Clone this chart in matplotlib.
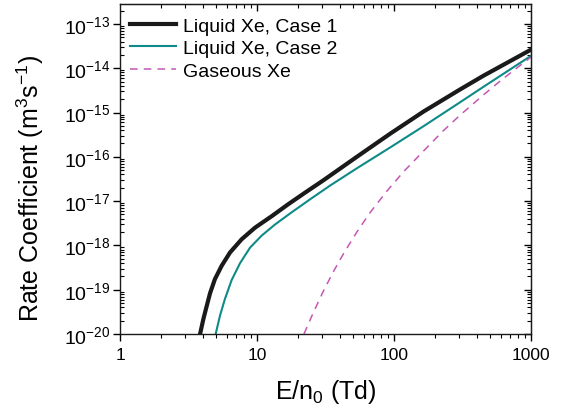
import matplotlib
matplotlib.use('Agg')
import matplotlib.pyplot as plt
from matplotlib.ticker import LogLocator, NullFormatter, FixedLocator

plt.rcParams['font.family'] = ['Liberation Sans', 'DejaVu Sans']
plt.rcParams['mathtext.fontset'] = 'custom'
plt.rcParams['mathtext.rm'] = 'Liberation Sans'
plt.rcParams['mathtext.it'] = 'Liberation Sans:italic'
plt.rcParams['mathtext.bf'] = 'Liberation Sans:bold'
plt.rcParams['mathtext.default'] = 'regular'

# E/n0 (Td) e coefficiente di rate (m^3 s^-1)
x_case1 = [3.84, 4.06, 4.30, 4.54, 4.93, 5.52, 6.35, 7.73, 9.66, 12.8, 16.9,
           22.4, 30.5, 53.5, 93.5, 164, 303, 449, 1000]
y_case1 = [1.0e-20, 2.19e-20, 4.37e-20, 8.32e-20, 1.74e-19, 3.47e-19, 6.92e-19,
           1.38e-18, 2.51e-18, 4.57e-18, 8.51e-18, 1.55e-17, 2.95e-17, 1.00e-16,
           3.31e-16, 1.05e-15, 3.31e-15, 6.76e-15, 2.63e-14]

x_case2 = [4.99, 5.37, 5.83, 6.53, 7.52, 8.89, 10.8, 13.5, 17.4, 24.4, 34.1,
           53.5, 93.5, 164, 303, 449, 1000]
y_case2 = [1.0e-20, 2.63e-20, 6.17e-20, 1.66e-19, 3.98e-19, 8.91e-19, 1.66e-18,
           2.95e-18, 5.25e-18, 1.10e-17, 2.24e-17, 5.50e-17, 1.62e-16, 4.90e-16,
           1.70e-15, 3.80e-15, 1.91e-14]

x_gas = [22.0, 25.8, 30.5, 36.1, 42.7, 53.5, 66.8, 88.3, 117, 164, 229, 303,
         450, 594, 879, 1000]
y_gas = [1.0e-20, 3.09e-20, 9.33e-20, 2.57e-19, 6.46e-19, 2.00e-18, 5.50e-18,
         1.66e-17, 4.57e-17, 1.35e-16, 3.89e-16, 8.71e-16, 2.51e-15, 5.13e-15,
         1.32e-14, 1.78e-14]

labels = ['Liquid Xe, Case 1', 'Liquid Xe, Case 2', 'Gaseous Xe']
y_major = [1e-20, 1e-19, 1e-18, 1e-17, 1e-16, 1e-15, 1e-14, 1e-13]

fig = plt.figure(figsize=(5.65, 4.14), dpi=100)
ax = fig.add_axes([0.2124, 0.1908, 0.7276, 0.7972])

ax.plot(x_case1, y_case1, color='#1a1a1a', lw=3.0, label=labels[0])
ax.plot(x_case2, y_case2, color='#0e8a87', lw=1.5, label=labels[1])
ax.plot(x_gas, y_gas, color='#c458b4', lw=1.1, ls=(0, (5, 4)), label=labels[2])

ax.set_xscale('log')
ax.set_yscale('log')
ax.set_xlim(1, 1000)
ax.set_ylim(1e-20, 10**-12.55)

ax.yaxis.set_major_locator(FixedLocator(y_major))
ax.yaxis.set_minor_locator(LogLocator(base=10, subs=range(2, 10), numticks=20))
ax.yaxis.set_minor_formatter(NullFormatter())
ax.xaxis.set_minor_formatter(NullFormatter())
ax.set_xticks([1, 10, 100, 1000])
ax.set_xticklabels(['1', '10', '100', '1000'])

for s in ax.spines.values():
    s.set_linewidth(1.0)
    s.set_color('#1a1a1a')

ax.tick_params(axis='x', which='major', direction='out', length=5, width=1, labelsize=12.5, pad=4)
ax.tick_params(axis='x', which='minor', direction='out', length=3, width=0.8)
ax.tick_params(axis='y', which='major', direction='out', length=5, width=1, labelsize=14, pad=2)
ax.tick_params(axis='y', which='minor', direction='in', length=3, width=0.8)

# tick di destra e in alto verso l'interno, senza etichette
ax2 = ax.secondary_xaxis('top')
ax2.xaxis.set_major_locator(FixedLocator([10, 100]))
ax2.xaxis.set_minor_locator(LogLocator(base=10, subs=range(2, 10)))
ax2.xaxis.set_major_formatter(NullFormatter())
ax2.xaxis.set_minor_formatter(NullFormatter())
ax2.tick_params(which='major', direction='in', length=5, width=1)
ax2.tick_params(which='minor', direction='in', length=3, width=0.8)
ax3 = ax.secondary_yaxis('right')
ax3.yaxis.set_major_locator(FixedLocator(y_major))
ax3.yaxis.set_minor_locator(LogLocator(base=10, subs=range(2, 10), numticks=20))
ax3.yaxis.set_major_formatter(NullFormatter())
ax3.yaxis.set_minor_formatter(NullFormatter())
ax3.tick_params(which='major', direction='in', length=5, width=1)
ax3.tick_params(which='minor', direction='in', length=3, width=0.8)

ax.set_xlabel('E/n$_0$ (Td)', fontsize=18, labelpad=11)
ax.set_ylabel('Rate Coefficient (m$^3$s$^{-1}$)', fontsize=18)
ax.yaxis.set_label_coords(-0.18, 0.445)

ax.legend(loc='upper left', bbox_to_anchor=(0.0, 0.99), frameon=False, fontsize=14,
          handlelength=2.4, handletextpad=0.35, labelspacing=0.25, borderaxespad=0.3,
          borderpad=0.2)

fig.savefig('out.png', dpi=100)
